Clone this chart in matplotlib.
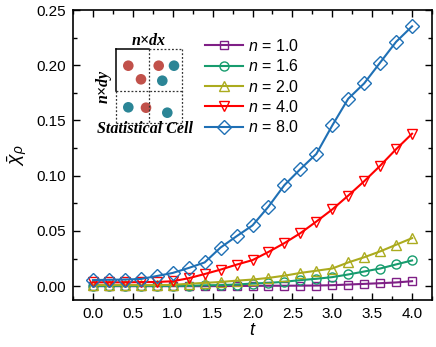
import numpy as np
import matplotlib
matplotlib.use("Agg")
import matplotlib.pyplot as plt
from matplotlib.patches import Circle

plt.rcParams['font.family'] = ['Liberation Sans', 'DejaVu Sans']
plt.rcParams['mathtext.fontset'] = 'custom'
plt.rcParams['mathtext.it'] = 'Liberation Sans:italic'
plt.rcParams['mathtext.rm'] = 'Liberation Sans'

t = np.round(np.arange(0, 4.01, 0.2), 1)
labels = ["$n$ = 1.0", "$n$ = 1.6", "$n$ = 2.0", "$n$ = 4.0", "$n$ = 8.0"]
n10 = [0.0, 0.0, 0.0, 0.0, 0.0, 0.0, 0.0, 0.0, 0.0001, 0.0002, 0.0003, 0.0004, 0.0004,
       0.0005, 0.0006, 0.0009, 0.0015, 0.0021, 0.0027, 0.0034, 0.0045]
n16 = [0.0003, 0.0003, 0.0003, 0.0003, 0.0003, 0.0003, 0.0003, 0.0008, 0.001, 0.0015,
       0.0024, 0.003, 0.004, 0.0055, 0.0067, 0.0082, 0.0106, 0.0133, 0.016, 0.0197, 0.0233]
n20 = [0.001, 0.001, 0.001, 0.001, 0.001, 0.0012, 0.0022, 0.003, 0.0038, 0.005,
       0.006, 0.0075, 0.0095, 0.012, 0.014, 0.016, 0.0215, 0.0262, 0.0315, 0.0375, 0.0435]
n40 = [0.0035, 0.0035, 0.0035, 0.0037, 0.0038, 0.0045, 0.0072, 0.011, 0.015, 0.0195,
       0.0236, 0.031, 0.039, 0.048, 0.0585, 0.0695, 0.082, 0.095, 0.109, 0.124, 0.138]
n80 = [0.0055, 0.0058, 0.006, 0.0065, 0.0092, 0.012, 0.0165, 0.0215, 0.035, 0.0452,
       0.055, 0.072, 0.0915, 0.106, 0.1197, 0.1455, 0.1697, 0.1836, 0.2024, 0.2212, 0.2352]
series = [n10, n16, n20, n40, n80]
colors = ["#7F1F86", "#179C6E", "#ABAB1E", "#FF0000", "#1F70B5"]
markers = ["s", "o", "^", "v", "D"]
msizes = [6, 6.5, 7.5, 7.5, 7]

W, H = 436, 347
fig = plt.figure(figsize=(W / 100, H / 100), dpi=100)
L, R, T, B = 73, 432, 10, 300
ax = fig.add_axes([L / W, 1 - B / H, (R - L) / W, (B - T) / H])

for y, c, m, ms, lab in zip(series, colors, markers, msizes, labels):
    ax.plot(t, y, color=c, lw=1.5, marker=m, ms=ms, mfc='none', mec=c, mew=1.0, label=lab)

ax.set_xlim(-0.25, 4.25)
ax.set_ylim(-0.0125, 0.25)
ax.set_xticks(np.arange(0, 4.01, 0.5))
ax.set_xticks(np.arange(-0.25, 4.26, 0.25), minor=True)
ax.set_yticks(np.arange(0, 0.251, 0.05))
ax.set_yticks(np.arange(0, 0.251, 0.025), minor=True)
ax.xaxis.set_major_formatter(matplotlib.ticker.FormatStrFormatter('%.1f'))
ax.yaxis.set_major_formatter(matplotlib.ticker.FormatStrFormatter('%.2f'))
ax.tick_params(which='both', direction='in', top=True, right=True, labelsize=11, width=1)
ax.tick_params(which='major', length=5, pad=5)
ax.tick_params(which='minor', length=3)
for s in ax.spines.values():
    s.set_linewidth(1.2)
ax.set_xlabel('$t$', fontsize=13, labelpad=1)
ax.set_ylabel(r'$\bar{\chi}_{\rho}$', fontsize=14, labelpad=5)

ax.legend(loc='upper left', bbox_to_anchor=((205 - L) / (R - L), (B - 38) / (B - T)),
          frameon=False, fontsize=11.5, handlelength=2.4, handletextpad=0.3,
          labelspacing=0.27, borderaxespad=0, borderpad=0)

# inset schematic (pixel coordinates)
ix0, iy0, ix1, iy1 = 88, 28, 205, 142
iax = fig.add_axes([ix0 / W, 1 - iy1 / H, (ix1 - ix0) / W, (iy1 - iy0) / H])
iax.set_xlim(ix0, ix1)
iax.set_ylim(iy1, iy0)
iax.axis('off')
sx0, sx1, sy0, sy1 = 116, 182, 49, 123
mx, my = 149, 91
ls = (0, (1.5, 1.5))
for (x0, y0, x1, y1) in [(sx1, sy0, sx1, sy1), (sx0, sy1, sx1, sy1), (mx, sy0, sx1, sy0),
                         (sx0, my, sx0, sy1), (mx, sy0, mx, sy1), (sx0, my, sx1, my)]:
    iax.plot([x0, x1], [y0, y1], color='#333333', lw=0.9, ls=ls)
iax.plot([sx0, mx], [sy0, sy0], color='black', lw=1.1)
iax.plot([sx0, sx0], [sy0, my], color='black', lw=1.1)
red, teal = "#C1514A", "#2B8596"
pts = [(128.3, 65.7, red), (141, 79.3, red), (158.7, 65.7, red), (174, 65.7, teal),
       (162.3, 80.7, teal), (128.3, 107.3, teal), (146, 107.7, red), (167.3, 112.7, teal)]
for x, y, c in pts:
    iax.add_patch(Circle((x, y), 5.3, color=c, lw=0))
sfont = dict(family='Liberation Serif', style='italic', weight='bold')
iax.text(149, 41, 'n×dx', ha='center', va='center', fontsize=11.5, **sfont)
iax.text(104, 86, 'n×dy', ha='center', va='center', rotation=90, fontsize=11.5, **sfont)
iax.text(145, 129, 'Statistical Cell', ha='center', va='center', fontsize=11.5, **sfont)

fig.savefig('out.png', dpi=100)
